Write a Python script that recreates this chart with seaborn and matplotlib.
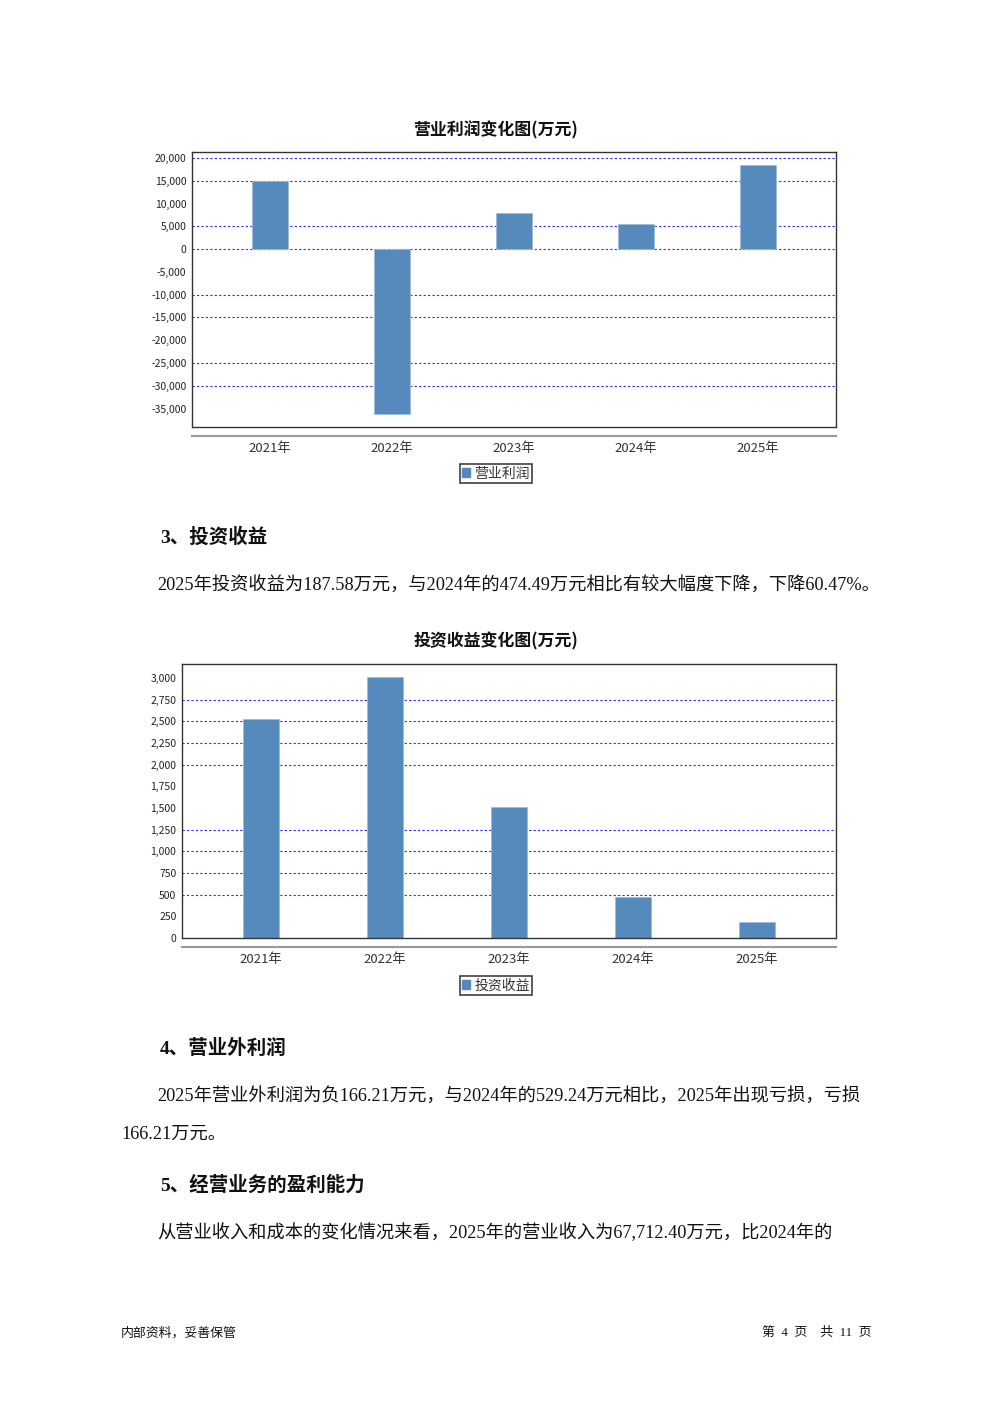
import numpy as np
import pandas as pd
import seaborn as sns
from matplotlib import pyplot as plt
from matplotlib.patches import Patch
from matplotlib.ticker import FuncFormatter

sns.set_style('white')
plt.rcParams['font.family'] = ['Noto Sans CJK SC', 'DejaVu Sans']

# data read from the page
years = ['2021年', '2022年', '2023年', '2024年', '2025年']
op_profit = [14850, -36200, 7900, 5550, 18530]
inv_income = [2530, 3015, 1515, 474.49, 187.58]

op_ticks = list(range(-35000, 20001, 5000))
op_grid = [20000, 15000, 5000, 0, -10000, -15000, -25000, -30000]
inv_ticks = list(range(0, 3001, 250))
inv_grid = [2750, 2500, 2250, 2000, 1250, 1000, 750, 500]

bar_color = '#5689bc'
grid_color = '#2b2bff'
serif_cjk = ['Liberation Serif', 'Noto Sans CJK SC']

fig = plt.figure(figsize=(9.92, 14.03), dpi=100)


def bar_chart(rect, values, ticks, grid, ylim, title, title_y, label, legend_y):
    ax = fig.add_axes(rect)
    df = pd.DataFrame({'year': years, 'value': values})
    sns.barplot(data=df, x='year', y='value', color=bar_color, saturation=1,
                width=0.29, ax=ax, zorder=3, edgecolor='#9dbbd9', linewidth=0.6)
    for g in grid:
        ax.axhline(g, color=grid_color, lw=0.8, ls=(0, (2, 2)), zorder=1)
    ax.set_xlim(-0.64, 4.64)
    ax.set_ylim(*ylim)
    ax.set_yticks(ticks)
    ax.yaxis.set_major_formatter(FuncFormatter(lambda v, p: f'{v:,.0f}'))
    ax.set_xlabel('')
    ax.set_ylabel('')
    for s in ['left', 'top', 'right']:
        ax.spines[s].set_color('#333333')
        ax.spines[s].set_linewidth(1.0)
    # category axis sits a bit below the plot box
    ax.spines['bottom'].set_position(('outward', 6.5))
    ax.spines['bottom'].set_color('#999999')
    ax.spines['bottom'].set_linewidth(1.5)
    ax.plot([0, 1], [0, 0], transform=ax.transAxes, color='#333333', lw=1.0,
            clip_on=False, zorder=4)
    ax.tick_params(axis='y', direction='out', length=2, width=0.6,
                   color='#888888', labelsize=7.5, labelcolor='#222222', pad=2)
    ax.tick_params(axis='x', direction='out', length=2, width=0.6,
                   color='#888888', labelsize=9.5, labelcolor='#333333', pad=2.5)
    fig.text(0.5, title_y, title, ha='center', va='center', fontsize=12.2,
             fontweight='bold', color='#111111')
    leg = fig.legend(handles=[Patch(color=bar_color, label=label)],
                     loc='center', bbox_to_anchor=(0.5, legend_y), fontsize=10,
                     frameon=True, fancybox=False, handlelength=0.55,
                     handleheight=0.55, handletextpad=0.3, borderpad=0.15,
                     borderaxespad=0, labelcolor='#333333')
    leg.get_frame().set_edgecolor('#111111')
    leg.get_frame().set_linewidth(1.2)
    return ax


bar_chart([192 / 992, 1 - 427 / 1403, 644 / 992, 275 / 1403], op_profit,
          op_ticks, op_grid, (-39050, 21320), '营业利润变化图(万元)',
          1 - 130 / 1403, '营业利润', 1 - 473.5 / 1403)

bar_chart([182 / 992, 1 - 938 / 1403, 654 / 992, 274 / 1403], inv_income,
          inv_ticks, inv_grid, (0, 3160), '投资收益变化图(万元)',
          1 - 641 / 1403, '投资收益', 1 - 985.5 / 1403)


def page_text(x, y, s, size=13.15, bold=False):
    fig.text(x / 992, 1 - y / 1403, s, ha='left', va='center', fontsize=size,
             family=serif_cjk, fontweight='bold' if bold else 'normal',
             color='#111111')


page_text(160, 537, '3、投资收益', size=14, bold=True)
page_text(157, 586, '2025年投资收益为187.58万元，与2024年的474.49万元相比有较大幅度下降，下降60.47%。')
page_text(160, 1048, '4、营业外利润', size=14, bold=True)
page_text(157, 1097, '2025年营业外利润为负166.21万元，与2024年的529.24万元相比，2025年出现亏损，亏损')
page_text(121, 1134, '166.21万元。')
page_text(160, 1185, '5、经营业务的盈利能力', size=14, bold=True)
page_text(157, 1233, '从营业收入和成本的变化情况来看，2025年的营业收入为67,712.40万元，比2024年的')

page_text(121, 1333, '内部资料，妥善保管', size=9.3)
fig.text(871 / 992, 1 - 1333 / 1403, '第  4  页    共  11  页', ha='right',
         va='center', fontsize=9.3, family=serif_cjk, color='#111111')

fig.savefig('out.png', dpi=100)
